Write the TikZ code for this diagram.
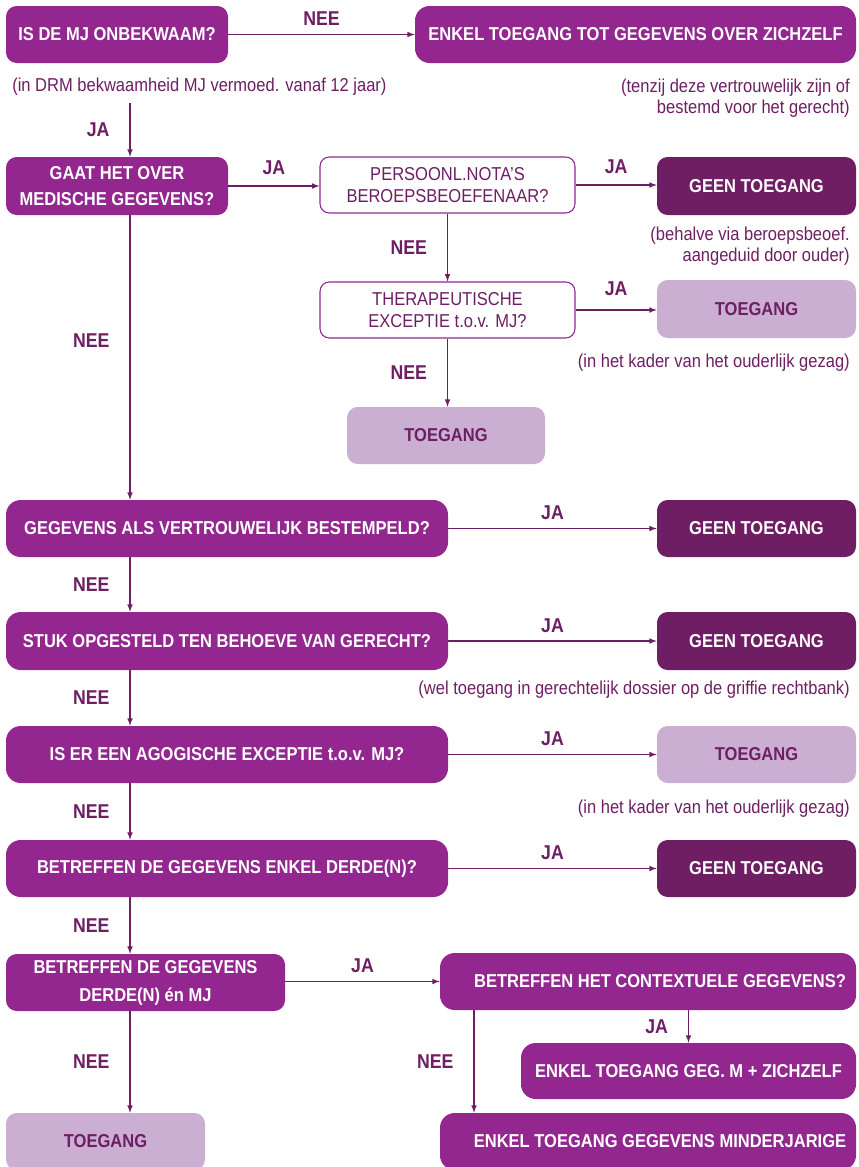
\documentclass[tikz,border=0pt]{standalone}
\usepackage{fontspec}
\setmainfont{Liberation Sans}[FakeStretch=0.885]
\tikzset{>=latex}
\definecolor{paars}{RGB}{147,39,143}
\definecolor{donker}{RGB}{112,30,100}
\definecolor{licht}{RGB}{202,175,211}
\definecolor{tekst}{RGB}{110,30,98}
\newdimen\px \px=0.75pt
\tikzset{
  maat/.style 2 args={minimum width=#1*\px, minimum height=#2*\px},
  vraag/.style={fill=paars, text=white, font=\bfseries\fontsize{14}{19}\selectfont,
    rounded corners=8pt, align=center, inner sep=0pt},
  breed/.style={rounded corners=11pt},
  nee/.style={vraag, fill=donker},
  ja/.style={vraag, fill=licht, text=tekst},
  open/.style={draw=paars, line width=0.8pt, fill=white, text=tekst, rounded corners=7pt,
    align=center, inner sep=0pt, font=\fontsize{14}{17}\selectfont},
  noot/.style={text=tekst, inner sep=0pt, font=\fontsize{14}{15.5}\selectfont},
  lbl/.style={text=tekst, inner sep=0pt, font=\bfseries\fontsize{15}{16}\selectfont},
  pijl/.style={->, draw=tekst, line width=0.9pt}
}

\begin{document}
\begin{tikzpicture}[x=0.75pt, y=-0.75pt]
  \useasboundingbox (0,0) rectangle (858,1167);
  \coordinate (kol) at (130,0);
  \coordinate (kol2) at (474,0);
  % top row
  \node[vraag, maat={222}{57}] (q1) at (117,34.5) {IS DE MJ ONBEKWAAM?};
  \node[vraag, breed, maat={441}{57}] (a1) at (635.5,34.5) {ENKEL TOEGANG TOT GEGEVENS OVER ZICHZELF};
  \node[noot, anchor=base west] (n1) at (12,91) {(in DRM bekwaamheid MJ vermoed. vanaf 12 jaar)};
  \node[noot, anchor=north east, align=right] (n2) at (850,79) {(tenzij deze vertrouwelijk zijn of\\bestemd voor het gerecht)};
  % medical branch
  \node[vraag, maat={222}{58}] (q2) at (117,186) {GAAT HET OVER\\MEDISCHE GEGEVENS?};
  \node[open, maat={255}{56}] (w1) at (447.5,185) {PERSOONL.NOTA'S\\BEROEPSBEOEFENAAR?};
  \node[nee, maat={199}{58}] (g1) at (756.5,186) {GEEN TOEGANG};
  \node[noot, anchor=north east, align=right] (n3) at (850,227) {(behalve via beroepsbeoef.\\aangeduid door ouder)};
  \node[open, maat={255}{56}] (w2) at (447.5,310) {THERAPEUTISCHE\\EXCEPTIE t.o.v. MJ?};
  \node[ja, maat={199}{58}] (t1) at (756.5,309) {TOEGANG};
  \node[noot, anchor=base east] (n4) at (850,367) {(in het kader van het ouderlijk gezag)};
  \node[ja, maat={198}{57}] (t2) at (446,435.5) {TOEGANG};
  % main column
  \node[vraag, breed, maat={442}{57}] (q3) at (227,528.5) {GEGEVENS ALS VERTROUWELIJK BESTEMPELD?};
  \node[nee, maat={199}{57}] (g2) at (756.5,528.5) {GEEN TOEGANG};
  \node[vraag, breed, maat={442}{58}] (q4) at (227,641) {STUK OPGESTELD TEN BEHOEVE VAN GERECHT?};
  \node[nee, maat={199}{58}] (g3) at (756.5,641) {GEEN TOEGANG};
  \node[noot, anchor=base east] (n5) at (850,694) {(wel toegang in gerechtelijk dossier op de griffie rechtbank)};
  \node[vraag, breed, maat={442}{57}] (q5) at (227,754.5) {IS ER EEN AGOGISCHE EXCEPTIE t.o.v. MJ?};
  \node[ja, maat={199}{57}] (t4) at (756.5,754.5) {TOEGANG};
  \node[noot, anchor=base east] (n6) at (850,813) {(in het kader van het ouderlijk gezag)};
  \node[vraag, breed, maat={442}{57}] (q6) at (227,868.5) {BETREFFEN DE GEGEVENS ENKEL DERDE(N)?};
  \node[nee, maat={199}{57}] (g4) at (756.5,868.5) {GEEN TOEGANG};
  % bottom part
  \node[vraag, maat={279}{57}] (q7) at (145.5,982.5) {BETREFFEN DE GEGEVENS\\[2pt]DERDE(N) én MJ};
  \node[vraag, breed, maat={416}{57}] (c1) at (648,981.5) {\hspace*{18pt}BETREFFEN HET CONTEXTUELE GEGEVENS?};
  \node[vraag, breed, maat={335}{56}] (r1) at (688.5,1071) {ENKEL TOEGANG GEG. M + ZICHZELF};
  \node[vraag, breed, maat={416}{57}] (r2) at (648,1141.5) {\hspace*{18pt}ENKEL TOEGANG GEGEVENS MINDERJARIGE};
  \node[ja, maat={199}{57}] (t3) at (105.5,1141.5) {TOEGANG};
  % connectors
  \draw[pijl] (q1) -- node[lbl, above=6pt] {NEE} (a1);
  \draw[pijl] ([yshift=-6pt]n1.south -| kol) -- node[lbl, left=15pt] {JA} (q2.north -| kol);
  \draw[pijl] (q2.east) -- node[lbl, above=8pt] {JA} (q2.east -| w1.west);
  \draw[pijl] (w1.east) -- node[lbl, above=8pt] {JA} (w1.east -| g1.west);
  \draw[pijl] (w1) -- node[lbl, left=15pt] {NEE} (w2);
  \draw[pijl] (w2.east) -- node[lbl, above=10pt] {JA} (w2.east -| t1.west);
  \draw[pijl] (w2.south) -- node[lbl, left=15pt] {NEE} (w2.south |- t2.north);
  \draw[pijl] (q2.south -| kol) -- node[lbl, left=15pt, pos=0.44] {NEE} (q3.north -| kol);
  \draw[pijl] (q3) -- node[lbl, above=6pt] {JA} (g2);
  \draw[pijl] (q3.south -| kol) -- node[lbl, left=15pt] {NEE} (q4.north -| kol);
  \draw[pijl] (q4) -- node[lbl, above=6pt] {JA} (g3);
  \draw[pijl] (q4.south -| kol) -- node[lbl, left=15pt] {NEE} (q5.north -| kol);
  \draw[pijl] (q5) -- node[lbl, above=6pt] {JA} (t4);
  \draw[pijl] (q5.south -| kol) -- node[lbl, left=15pt] {NEE} (q6.north -| kol);
  \draw[pijl] (q6) -- node[lbl, above=6pt] {JA} (g4);
  \draw[pijl] (q6.south -| kol) -- node[lbl, left=15pt] {NEE} (q7.north -| kol);
  \draw[pijl] (q7.east |- c1) -- node[lbl, above=6pt] {JA} (c1);
  \draw[pijl] (r1.north |- c1.south) -- node[lbl, left=15pt] {JA} (r1.north);
  \draw[pijl] (c1.south -| kol2) -- node[lbl, left=15pt] {NEE} (r2.north -| kol2);
  \draw[pijl] (q7.south -| kol) -- node[lbl, left=15pt] {NEE} (t3.north -| kol);
\end{tikzpicture}
\end{document}
